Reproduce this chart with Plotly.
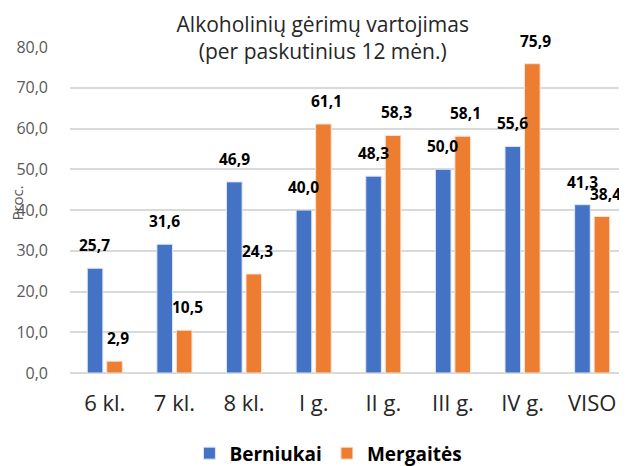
import plotly.graph_objects as go

categories = ['6 kl.', '7 kl.', '8 kl.', 'I g.', 'II g.', 'III g.', 'IV g.', 'VISO']
berniukai = [25.7, 31.6, 46.9, 40.0, 48.3, 50.0, 55.6, 41.3]
mergaites = [2.9, 10.5, 24.3, 61.1, 58.3, 58.1, 75.9, 38.4]
y_ticks = [0, 10, 20, 30, 40, 50, 60, 70, 80]


def fmt(v):
    return f'{v:.1f}'.replace('.', ',')


fig = go.Figure()
fig.add_trace(go.Bar(
    x=categories, y=berniukai, name='Berniukai',
    marker=dict(color='#4472C4', line=dict(color='#DDE6F5', width=1)),
))
fig.add_trace(go.Bar(
    x=categories, y=mergaites, name='Mergaitės',
    marker=dict(color='#ED7D31', line=dict(color='#FBE3D3', width=1)),
))

# value labels above the bars, in the chart's decimal-comma format
labels = []
for series, shift in ((berniukai, -10), (mergaites, 13)):
    for cat, v in zip(categories, series):
        labels.append(dict(x=cat, y=v, xref='x', yref='y', text=f'<b>{fmt(v)}</b>',
                           showarrow=False, xshift=shift, yshift=10, yanchor='bottom',
                           font=dict(size=15.5, color='black', family='Open Sans')))
labels.append(dict(text='Proc.', x=-0.095, y=0.52, xref='paper', yref='paper',
                   xanchor='center', yanchor='middle',
                   textangle=-90, showarrow=False,
                   font=dict(size=15, color='#595959')))

fig.update_layout(
    width=627, height=480,
    barmode='group', bargap=0.44, bargroupgap=0.2,
    plot_bgcolor='white', paper_bgcolor='white',
    font=dict(family='Open Sans', color='#262626'),
    title=dict(text='Alkoholinių gėrimų vartojimas<br>(per paskutinius 12 mėn.)',
               x=0.502, xanchor='center', y=0.95, yanchor='top',
               font=dict(size=21, color='#262626')),
    margin=dict(l=57, r=8, t=39, b=115),
    xaxis=dict(tickfont=dict(size=22, color='#262626'), showline=False,
               ticks='', ticklabelstandoff=15),
    yaxis=dict(range=[0, 80], tickvals=y_ticks,
               ticktext=[fmt(v) for v in y_ticks],
               tickfont=dict(size=16, color='#595959'),
               gridcolor='#D9D9D9', gridwidth=1.5, zeroline=True,
               zerolinecolor='#D9D9D9', zerolinewidth=1.5,
               ticklabelstandoff=21),
    showlegend=True,
    legend=dict(orientation='h', x=0.464, xanchor='center', y=-0.188, yanchor='top',
                font=dict(size=19, color='#000000', weight='bold'),
                itemwidth=30, traceorder='normal'),
    annotations=labels,
)

fig.write_html('out.html')
